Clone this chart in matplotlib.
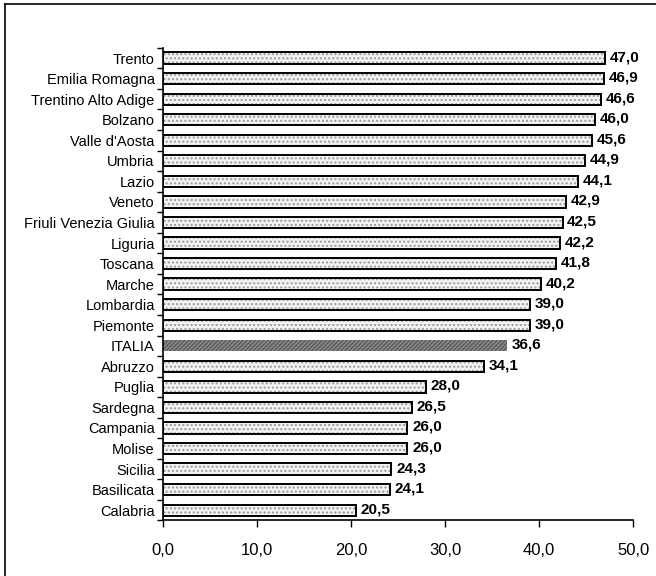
import numpy as np
import matplotlib.pyplot as plt
from matplotlib.lines import Line2D

plt.rcParams['font.family'] = ['Liberation Sans', 'DejaVu Sans']

regions = ['Trento', 'Emilia Romagna', 'Trentino Alto Adige', 'Bolzano', "Valle d'Aosta",
           'Umbria', 'Lazio', 'Veneto', 'Friuli Venezia Giulia', 'Liguria', 'Toscana',
           'Marche', 'Lombardia', 'Piemonte', 'ITALIA', 'Abruzzo', 'Puglia', 'Sardegna',
           'Campania', 'Molise', 'Sicilia', 'Basilicata', 'Calabria']
values = [47.0, 46.9, 46.6, 46.0, 45.6, 44.9, 44.1, 42.9, 42.5, 42.2, 41.8,
          40.2, 39.0, 39.0, 36.6, 34.1, 28.0, 26.5, 26.0, 26.0, 24.3, 24.1, 20.5]
xticks = [0, 10, 20, 30, 40, 50]

fig = plt.figure(figsize=(6.56, 5.76), dpi=100)
ax = fig.add_axes([0.2485, 0.0964, 0.7165, 0.8206])

y = np.arange(len(regions))

for yi, v, r in zip(y, values, regions):
    if r == 'ITALIA':
        ax.barh(yi, v, height=0.55, color='#8a8a8a', edgecolor='#5a5a5a',
                hatch='////////', linewidth=0)
    else:
        ax.barh(yi, v, height=0.55, color='#f2f2f2', edgecolor='#9a9a9a',
                hatch='....', linewidth=0)
        ax.barh(yi, v, height=0.55, fill=False, edgecolor='black', linewidth=1.4)
    ax.text(v + 0.5, yi - 0.05, f'{v:.1f}'.replace('.', ','), va='center', ha='left',
            fontsize=11, fontweight='bold')

ax.set_ylim(len(regions) - 0.5, -0.5)
ax.set_xlim(0, 50)
ax.set_yticks(y)
ax.set_yticklabels(regions, fontsize=10.5)
ax.set_yticks(np.arange(-0.5, len(regions), 1), minor=True)
ax.tick_params(axis='y', which='major', length=0, pad=6)
ax.tick_params(axis='y', which='minor', length=4, width=1, direction='out')
ax.set_xticks(xticks)
ax.set_xticklabels([f'{t:.1f}'.replace('.', ',') for t in xticks], fontsize=12)
ax.tick_params(axis='x', length=5, width=1, direction='out', pad=11)

ax.spines['top'].set_visible(False)
ax.spines['right'].set_visible(False)
ax.spines['left'].set_linewidth(1.2)
ax.spines['bottom'].set_linewidth(1.2)

# outer frame lines (top and left)
fig.add_artist(Line2D([5 / 656, 1], [1 - 4 / 576, 1 - 4 / 576], color='black', lw=1.2,
                      transform=fig.transFigure))
fig.add_artist(Line2D([5 / 656, 5 / 656], [0, 1 - 4 / 576], color='black', lw=1.2,
                      transform=fig.transFigure))

fig.savefig('out.png', dpi=100)
